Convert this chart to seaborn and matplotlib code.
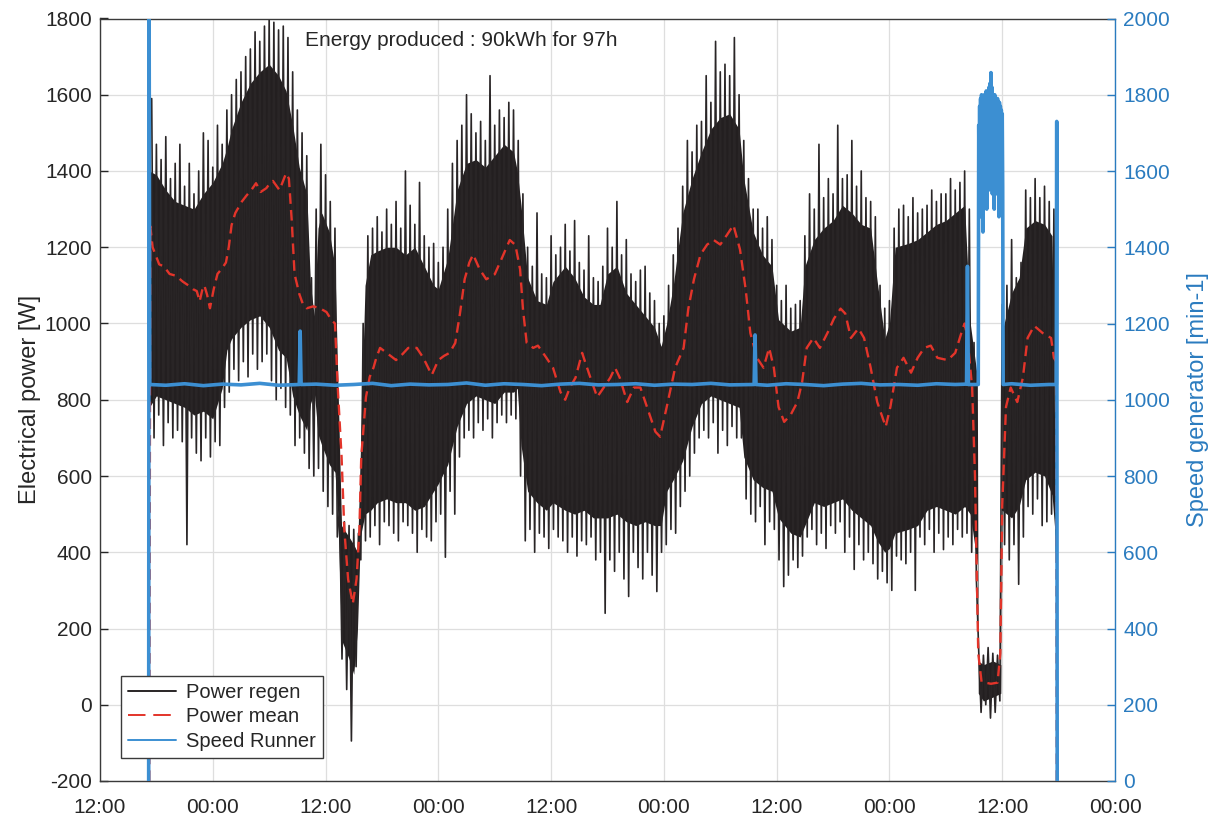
import matplotlib
matplotlib.use("Agg")
import matplotlib.pyplot as plt
import numpy as np
import pandas as pd
import seaborn as sns

# ---------------- data (hours since the 12:00 at the left edge) ----------------
x_ticks = [0, 12, 24, 36, 48, 60, 72, 84, 96, 108]
x_tick_labels = ["12:00", "00:00", "12:00", "00:00", "12:00",
                 "00:00", "12:00", "00:00", "12:00", "00:00"]

# dense core of the raw "Power regen" signal [W]
core_t = [5.25, 6.0, 7.0, 8.0, 9.0, 10.0, 11.0, 12.0, 13.0, 13.5, 14.0, 15.0, 16.0, 17.0,
          18.0, 19.0, 19.8, 20.5, 21.2, 22.0, 22.4, 22.8, 23.2, 23.6, 24.4, 25.0, 25.3,
          25.7, 26.5, 27.0, 27.4, 27.7, 28.2, 28.8, 29.5, 30.5, 31.5, 32.5, 33.5, 34.5,
          35.5, 36.0, 37.0, 38.0, 39.0, 40.0, 41.0, 42.0, 43.0, 44.0, 44.4, 44.8, 45.5,
          46.5, 47.5, 48.2, 49.5, 50.5, 51.5, 52.5, 53.2, 54.0, 55.0, 56.0, 57.0, 58.0,
          59.0, 59.7, 60.3, 61.0, 62.0, 63.0, 64.0, 65.0, 66.0, 67.0, 68.0, 68.5, 69.5,
          70.5, 71.5, 72.2, 73.5, 74.5, 75.0, 76.0, 77.0, 78.0, 79.0, 80.0, 81.0, 82.0,
          82.7, 83.5, 84.0, 84.6, 86.0, 87.0, 88.0, 89.0, 90.0, 91.0, 92.0, 92.6, 93.35,
          93.45, 94.0, 95.0, 95.85, 96.0, 97.0, 97.8, 98.5, 99.5, 100.5, 101.3, 101.75]
core_hi = [1400, 1390, 1350, 1320, 1310, 1300, 1340, 1370, 1420, 1460, 1510, 1580, 1630, 1660,
           1680, 1650, 1610, 1520, 1410, 1340, 1100, 1020, 1250, 1290, 1240, 1150, 860,
           470, 440, 420, 400, 660, 1100, 1180, 1190, 1200, 1200, 1180, 1200, 1150,
           1100, 1090, 1170, 1350, 1420, 1430, 1410, 1440, 1470, 1450, 1400, 1310, 1120,
           1060, 1050, 1110, 1150, 1120, 1070, 1050, 1050, 1130, 1150, 1080, 1050, 1020,
           990, 940, 1000, 1100, 1290, 1380, 1450, 1510, 1540, 1550, 1510, 1380, 1240,
           1180, 1150, 1010, 980, 990, 1150, 1220, 1250, 1270, 1310, 1290, 1260, 1250,
           1110, 960, 1000, 1200, 1210, 1220, 1240, 1260, 1270, 1290, 1310, 1000, 860,
           115, 105, 115, 105, 980, 1080, 1120, 1250, 1270, 1260, 1230, 420]
core_lo = [780, 810, 800, 790, 780, 760, 770, 750, 830, 930, 960, 990, 1010, 1020,
           990, 930, 910, 810, 760, 720, 790, 820, 710, 680, 630, 610, 500,
           170, 120, 80, 200, 440, 500, 510, 530, 540, 530, 530, 510, 520,
           560, 580, 630, 730, 790, 810, 800, 790, 820, 820, 830, 680, 560,
           530, 510, 530, 510, 500, 510, 490, 490, 490, 500, 480, 470, 480,
           470, 470, 560, 590, 640, 730, 790, 810, 800, 790, 780, 650, 590,
           570, 560, 490, 450, 440, 470, 530, 520, 530, 540, 510, 490, 470,
           430, 400, 410, 450, 460, 470, 510, 520, 510, 500, 520, 500, 370,
           30, 10, 20, 30, 510, 490, 520, 590, 610, 600, 550, 410]

# oscillation extremes of the raw signal: peaks every 0.5 h from 5.5 h,
# troughs every 0.5 h from 5.75 h [W]
raw_peaks = [1590, 1470, 1430, 1490, 1380, 1420, 1470, 1360, 1420, 1340, 1400, 1500, 1480,
             1410, 1520, 1470, 1560, 1600, 1640, 1660, 1700, 1720, 1765, 1740, 1780, 1800,
             1790, 1770, 1780, 1750, 1660, 1560, 1500, 1440, 1120, 1300, 1470, 1390, 1320,
             1250, 520, 480, 470, 460, 450, 1000, 1230, 1250, 1280, 1240, 1300, 1260, 1320,
             1250, 1400, 1310, 1260, 1370, 1230, 1200, 1210, 1160, 1200, 1300, 1420, 1480,
             1520, 1600, 1550, 1500, 1530, 1480, 1650, 1520, 1560, 1540, 1580, 1560, 1480,
             1340, 1200, 1150, 1290, 1130, 1120, 1230, 1180, 1200, 1260, 1190, 1270, 1160,
             1140, 1230, 1120, 1110, 1150, 1250, 1200, 1320, 1180, 1220, 1130, 1110, 1140,
             1150, 1080, 1060, 1000, 1020, 1100, 1180, 1250, 1360, 1480, 1450, 1520, 1530,
             1650, 1580, 1740, 1660, 1680, 1650, 1750, 1600, 1480, 1380, 1300, 1300, 1250,
             1280, 1220, 1100, 1060, 1100, 1040, 1050, 1060, 1230, 1340, 1300, 1470, 1330,
             1380, 1340, 1520, 1380, 1390, 1480, 1360, 1400, 1330, 1320, 1280, 1100, 1040,
             1060, 1250, 1300, 1310, 1280, 1330, 1290, 1300, 1310, 1350, 1320, 1340, 1340,
             1380, 1350, 1370, 1400, 1300, 950, 140, 130, 150, 135, 130, 1050, 1100, 1220,
             1120, 1160, 1350, 1330, 1380, 1330, 1360, 1320, 1300]
raw_troughs = [700, 760, 680, 740, 700, 720, 690, 420, 700, 660, 640, 700, 650,
               690, 680, 780, 820, 880, 850, 900, 860, 920, 880, 900, 920, 850,
               800, 830, 780, 760, 680, 700, 660, 620, 600, 620, 560, 520, 500,
               440, 120, 40, -95, 100, 380, 430, 440, 470, 420, 480, 470, 450, 430,
               480, 470, 450, 400, 460, 440, 430, 480, 500, 387, 560, 500, 650,
               700, 720, 700, 740, 720, 750, 700, 740, 760, 740, 760, 750, 600,
               430, 460, 400, 450, 440, 410, 460, 440, 430, 400, 440, 390, 430,
               420, 440, 380, 400, 240, 380, 350, 400, 330, 284, 400, 360, 330,
               400, 340, 297, 400, 420, 460, 450, 520, 560, 600, 660, 700, 720,
               700, 740, 660, 720, 680, 730, 700, 700, 540, 500, 480, 520, 420,
               480, 460, 380, 310, 340, 380, 360, 390, 440, 460, 420, 450, 410,
               470, 450, 480, 400, 440, 355, 420, 380, 400, 370, 330, 350, 320,
               300, 390, 380, 370, 400, 300, 440, 420, 460, 400, 450, 407, 440,
               420, 460, 440, 450, 400, 330, -20, 0, -35, -20, 10, 420, 380, 420,
               316, 440, 520, 500, 540, 470, 480, 500, 400]

# moving average "Power mean" [W]
mean_t = [5.25, 5.35, 5.6, 6.3, 6.8, 7.4, 8.1, 8.8, 9.4, 9.9, 10.3, 10.6, 10.9, 11.1, 11.4,
          11.7, 12.1, 12.5, 13.0, 13.4, 13.7, 14.0, 14.4, 14.7, 15.1, 15.6, 16.1, 16.6,
          17.1, 17.7, 18.0, 18.4, 18.8, 19.1, 19.5, 19.8, 20.1, 20.4, 20.7, 21.2, 21.6,
          22.0, 22.7, 23.4, 24.1, 24.6, 25.0, 25.3, 25.7, 26.0, 26.4, 26.9, 27.3, 27.6,
          27.8, 28.3, 28.7, 29.1, 29.4, 29.8, 30.5, 31.5, 32.2, 32.8, 33.7, 34.4, 35.3,
          36.0, 36.6, 37.2, 37.8, 38.3, 38.8, 39.3, 39.7, 40.4, 41.1, 42.0, 42.7, 43.6,
          44.2, 44.7, 45.0, 45.4, 46.1, 46.6, 47.5, 48.2, 49.0, 49.5, 50.0, 50.6, 51.3,
          52.0, 52.9, 53.6, 54.3, 54.8, 55.3, 56.1, 56.8, 57.5, 58.2, 59.1, 59.6, 60.3,
          61.2, 62.1, 62.6, 63.2, 63.9, 64.6, 65.3, 66.0, 66.7, 67.4, 68.1, 68.7, 69.2,
          69.9, 70.6, 71.2, 71.7, 72.2, 72.8, 73.5, 74.2, 74.7, 75.2, 75.9, 76.6, 77.4,
          78.1, 78.8, 79.3, 79.9, 80.7, 81.3, 82.0, 82.7, 83.6, 84.1, 84.8, 85.5, 86.3,
          87.0, 87.7, 88.4, 89.1, 90.2, 91.0, 91.8, 92.0, 92.3, 92.8, 93.1, 93.45, 93.8,
          94.2, 94.8, 95.5, 95.8, 96.0, 96.4, 96.9, 97.6, 98.2, 98.7, 99.4, 100.3, 101.2,
          101.5, 101.75, 101.8]
mean_v = [-200, 1255, 1200, 1155, 1150, 1130, 1125, 1110, 1100, 1090, 1085, 1058, 1090, 1100, 1075,
          1040, 1090, 1130, 1145, 1160, 1200, 1258, 1290, 1303, 1320, 1336, 1350, 1368,
          1345, 1355, 1365, 1374, 1360, 1350, 1375, 1394, 1380, 1271, 1130, 1078, 1050,
          1040, 1045, 1040, 1030, 1010, 1000, 832, 652, 458, 329, 265, 330, 458,
          652, 807, 860, 884, 910, 936, 923, 904, 920, 936, 936, 910, 865,
          904, 915, 923, 949, 1026, 1116, 1160, 1181, 1142, 1116, 1129, 1168, 1219,
          1206, 1142, 1039, 949, 936, 942, 910, 884, 820, 800, 832, 858, 923,
          871, 807, 832, 858, 884, 858, 794, 832, 832, 781, 716, 703, 781,
          884, 936, 1039, 1116, 1181, 1207, 1219, 1207, 1232, 1258, 1194, 1090, 975,
          910, 884, 936, 884, 781, 742, 761, 794, 845, 936, 962, 936, 975,
          1013, 1039, 1026, 962, 987, 962, 884, 794, 729, 781, 884, 910, 871,
          910, 936, 942, 910, 904, 923, 987, 1000, 962, 832, 600, 135, 60,
          58, 55, 58, 135, 523, 781, 832, 794, 858, 962, 994, 975, 962,
          910, 900, -200]

# generator speed "Speed Runner" [min-1]
speed_t = [5.18, 5.22, 5.3, 7, 9, 11, 13, 15, 17, 19, 21.2, 21.3, 21.4, 23, 25, 27, 29, 31,
           33, 35, 37, 39, 41, 43, 45, 47, 49, 51, 53, 55, 57, 59, 61, 63, 65, 67, 69.6,
           69.7, 69.8, 71, 73, 75, 77, 79, 81, 83, 85, 87, 89, 91, 92.2, 92.3, 92.4, 93.45,
           93.50, 93.55, 93.60, 93.65, 93.70, 93.75, 93.80, 93.85, 93.90, 93.95, 94.00,
           94.05, 94.10, 94.15, 94.20, 94.25, 94.30, 94.35, 94.40, 94.45, 94.50, 94.55,
           94.60, 94.65, 94.70, 94.75, 94.80, 94.85, 94.90, 94.95, 95.00, 95.05, 95.10,
           95.15, 95.20, 95.25, 95.30, 95.35, 95.40, 95.45, 95.50, 95.55, 95.60, 95.65,
           95.70, 95.75, 95.80, 95.85, 95.90, 95.95, 96.00, 96.05, 96.10,
           97, 99, 101, 101.75, 101.8, 101.85]
speed_v = [0, 2100, 1040, 1038, 1042, 1037, 1041, 1039, 1043, 1038, 1040, 1180, 1040, 1041,
           1038, 1040, 1043, 1037, 1041, 1039, 1040, 1044, 1038, 1042, 1040, 1037, 1041,
           1043, 1039, 1040, 1042, 1038, 1041, 1040, 1043, 1039, 1040, 1170, 1040, 1038,
           1042, 1040, 1037, 1041, 1043, 1039, 1040, 1038, 1042, 1040, 1041, 1350, 1040,
           1040,
           1720, 1550, 1770, 1480, 1790, 1560, 1800, 1540, 1790, 1440, 1780,
           1580, 1800, 1560, 1790, 1600, 1810, 1500, 1790, 1560, 1800, 1550,
           1820, 1580, 1830, 1560, 1858, 1590, 1820, 1540, 1800, 1560, 1790,
           1500, 1800, 1550, 1790, 1570, 1780, 1540, 1790, 1560, 1770, 1480,
           1780, 1540, 1770, 1500, 1760, 1520, 1750, 1560, 1040,
           1042, 1038, 1040, 1040, 1730, 0]

annotation = "Energy produced : 90kWh for 97h"

# ---------------- assemble the raw oscillating signal ----------------
peak_t = np.arange(len(raw_peaks)) * 0.5 + 5.5
trough_t = np.arange(len(raw_troughs)) * 0.5 + 5.75
df_raw = pd.DataFrame({"t": np.concatenate([peak_t, trough_t]),
                       "P": raw_peaks + raw_troughs}).sort_values("t")
df_core = pd.DataFrame({"t": core_t, "hi": core_hi, "lo": core_lo})
df_mean = pd.DataFrame({"t": mean_t, "P": mean_v})
df_speed = pd.DataFrame({"t": speed_t, "n": speed_v})

# ---------------- styling ----------------
sns.set_theme(style="white")
plt.rcParams["font.family"] = ["Liberation Sans", "DejaVu Sans"]
plt.rcParams["axes.unicode_minus"] = False

C_BLACK = "#231f20"
C_RED = "#e3342a"
C_BLUE = "#3c8fd2"
C_BLUE_AX = "#2a7bbf"
C_TXT = "#262626"

fig = plt.figure(figsize=(12.23, 8.17), dpi=100)
ax = fig.add_axes([100 / 1223, 1 - 781 / 817, 1015 / 1223, 762.5 / 817])
ax2 = ax.twinx()

ax.fill_between(df_core["t"], df_core["lo"], df_core["hi"], color=C_BLACK, lw=0, zorder=2)
sns.lineplot(data=df_raw, x="t", y="P", ax=ax, color="#292526", lw=1.2,
             estimator=None, sort=False, zorder=2, label="Power regen")
sns.lineplot(data=df_mean, x="t", y="P", ax=ax, color=C_RED, lw=1.7,
             linestyle=(0, (4.5, 2.6)), estimator=None, sort=False, zorder=3,
             label="Power mean")
sns.lineplot(data=df_speed, x="t", y="n", ax=ax2, color=C_BLUE, lw=2.6,
             estimator=None, sort=False, zorder=3, label="Speed Runner")

# axes
ax.set_xlim(0, 108)
ax.set_ylim(-200, 1800)
ax2.set_ylim(0, 2000)
ax.set_xticks(x_ticks)
ax.set_xticklabels(x_tick_labels)
ax.set_yticks(np.arange(-200, 1801, 200))
ax2.set_yticks(np.arange(0, 2001, 200))
ax.set_xlabel("")
ax.set_ylabel("Electrical power [W]", fontsize=17, color=C_TXT, labelpad=3)
ax2.set_ylabel("Speed generator [min-1]", fontsize=17, color=C_BLUE_AX, labelpad=12)

ax.grid(True, color="#dedede", lw=0.9)
ax.set_axisbelow(True)
ax.tick_params(axis="both", direction="in", length=6, width=1, colors=C_TXT,
               labelsize=15, top=False, right=False)
ax.tick_params(axis="x", pad=12)
ax.tick_params(axis="y", pad=6)
ax2.tick_params(axis="y", direction="in", length=6, width=1, colors=C_BLUE_AX,
                labelsize=15, pad=6)
for s in ["left", "bottom", "top"]:
    ax.spines[s].set_color("#3a3a3a")
    ax.spines[s].set_linewidth(1.0)
    ax2.spines[s].set_visible(False)
ax.spines["right"].set_visible(False)
ax2.spines["right"].set_color(C_BLUE_AX)
ax2.spines["right"].set_linewidth(1.0)

ax.text(21.8, 1742, annotation, fontsize=15, color=C_TXT, ha="left", va="center")

# legend (all three series, drawn on the top axes)
h1, l1 = ax.get_legend_handles_labels()
h2, l2 = ax2.get_legend_handles_labels()
if ax.get_legend() is not None:
    ax.get_legend().remove()
if ax2.get_legend() is not None:
    ax2.get_legend().remove()
leg = ax2.legend(h1 + h2, l1 + l2, loc="lower left", bbox_to_anchor=(0.0207, 0.030),
                 borderaxespad=0, fancybox=False, framealpha=1, edgecolor="#3a3a3a",
                 fontsize=14.5, handlelength=2.4, labelspacing=0.28, borderpad=0.35,
                 handletextpad=0.5)
leg.get_frame().set_linewidth(1.0)
for i, ln in enumerate(leg.get_lines()):
    ln.set_linewidth(1.4)
    if i == 1:
        ln.set_linestyle((0, (9, 4)))
for t in leg.get_texts():
    t.set_color(C_TXT)

fig.savefig("out.png", dpi=100)
